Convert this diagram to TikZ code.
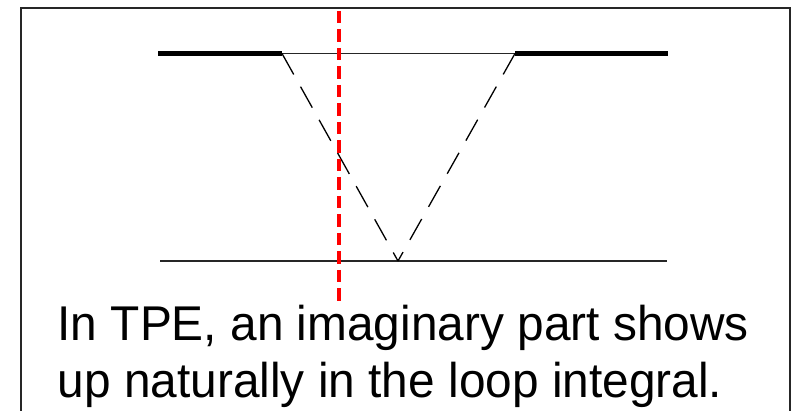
\documentclass[tikz,border=0pt]{standalone}
\usepackage{fontspec}
\setmainfont{Liberation Sans}
\begin{document}
\begin{tikzpicture}[x=1pt,y=-1pt,
  frame/.style={draw=black!85,line width=2pt},
  thickline/.style={line width=5pt},
  thinline/.style={line width=1.4pt,draw=black!85},
  propagator/.style={line width=1.3pt,dash pattern=on 24pt off 14pt},
  cutline/.style={draw=red,line width=3.5pt,dash pattern=on 12.5pt off 6pt},
  caption/.style={anchor=base west,inner sep=0pt,xscale=0.98,transform shape,font=\fontsize{48.8}{57}\selectfont}]
\useasboundingbox (0,0) rectangle (805,411);
\fill[white] (0,0) rectangle (805,411);
\draw[frame] (21,8) rectangle (790,440);
% coordinates
\coordinate (TL) at (158,53.5);
\coordinate (A) at (282,53.5);
\coordinate (B) at (515,53.5);
\coordinate (TR) at (668,53.5);
\coordinate (BL) at (160,261);
\coordinate (V) at (398,261);
\coordinate (BR) at (667,261);
\coordinate (R1) at (339,11);
\coordinate (R2) at (339,302);
% lines
\draw[thickline] (TL) -- (A);
\draw[thinline] (A) -- (B);
\draw[thickline] (B) -- (TR);
\draw[thinline] (BL) -- (BR);
\draw[propagator] (A) -- (V);
\draw[propagator] (B) -- (V);
\draw[cutline] (R1) -- (R2);
% text
\node[caption] (text1) at (57.5,340) {In TPE, an imaginary part shows};
\node[caption] (text2) at (57.5,397) {up naturally in the loop integral.};
\end{tikzpicture}
\end{document}
